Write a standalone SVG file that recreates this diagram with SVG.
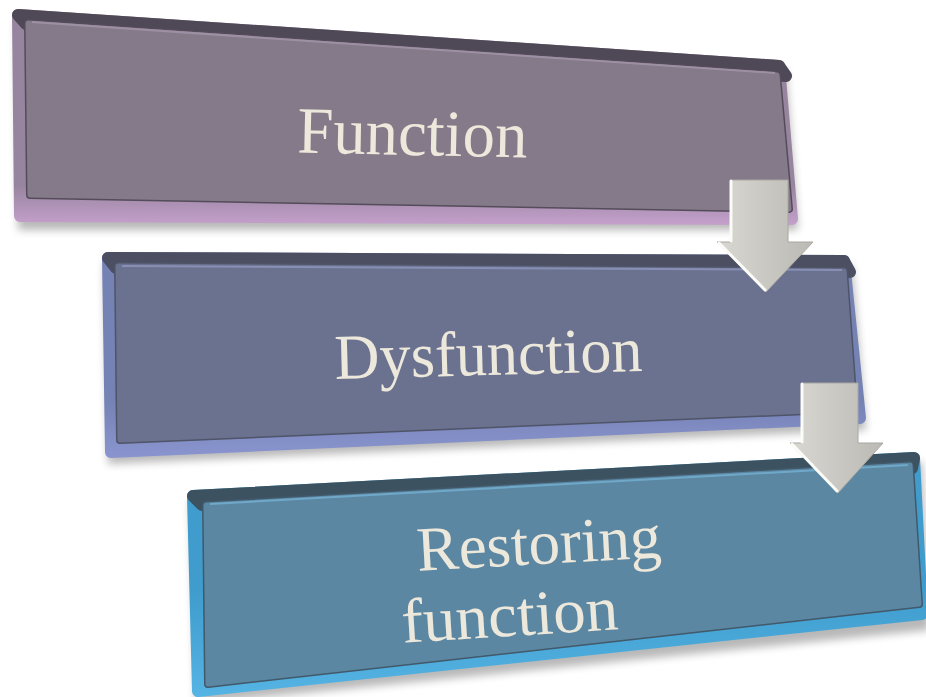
<svg xmlns="http://www.w3.org/2000/svg" width="926" height="697" viewBox="0 0 926 697">
<defs>
<filter id="blur" x="-10%" y="-20%" width="120%" height="140%"><feGaussianBlur stdDeviation="4"/></filter>
<linearGradient id="rim1" gradientUnits="userSpaceOnUse" x1="0" y1="185" x2="0" y2="228"><stop offset="0" stop-color="#97849f"/><stop offset="1" stop-color="#c8a2cf"/></linearGradient>
<linearGradient id="rim2" gradientUnits="userSpaceOnUse" x1="0" y1="400" x2="0" y2="458"><stop offset="0" stop-color="#7582b4"/><stop offset="1" stop-color="#8a95d0"/></linearGradient>
<linearGradient id="rim3" gradientUnits="userSpaceOnUse" x1="0" y1="590" x2="0" y2="697"><stop offset="0" stop-color="#3f9ccc"/><stop offset="1" stop-color="#55b4e4"/></linearGradient>
<linearGradient id="arr" x1="0" y1="0" x2="1" y2="0"><stop offset="0" stop-color="#d9d8d2"/><stop offset="0.5" stop-color="#c9c8c2"/><stop offset="1" stop-color="#bbbab4"/></linearGradient>
</defs>
<style>
.sh{fill:#000;opacity:0.28;filter:url(#blur)}
.rnd{stroke-linejoin:round}
.lbl{font-family:"Liberation Serif","DejaVu Serif",serif;fill:#ede8dc;text-anchor:middle}
.arrow{fill:url(#arr);stroke:#a8a7a1;stroke-width:1;stroke-linejoin:round}
.hl{fill:none;stroke:#fbfbf8;stroke-width:3;stroke-linecap:round}
</style>

<g id="node-function">
<polygon class="sh" points="16,20 786,70 798,230 18,230"/>
<polygon class="rnd" points="18,15 779,66 792,219 20,216" fill="url(#rim1)" stroke="url(#rim1)" stroke-width="12"/>
<polygon class="rnd" points="18,15 779,66 786,76 26,24" fill="#4f4856" stroke="#4f4856" stroke-width="12"/>
<polygon class="rnd" points="28,23 777,75 789,209 30,195" fill="#544c5a" stroke="#544c5a" stroke-width="8"/>
<polygon class="rnd" points="28,23 777,75 789,209 30,195" fill="#857a89" stroke="#857a89" stroke-width="5"/>
<line x1="32" y1="22" x2="775" y2="73" stroke="#9d90a4" stroke-width="2"/>
<text class="lbl" x="412" y="155" font-size="66" textLength="230" lengthAdjust="spacingAndGlyphs" transform="rotate(1.2 412 155)">Function</text>
</g>

<g id="node-dysfunction">
<polygon class="sh" points="104,262 852,265 866,430 108,464"/>
<polygon class="rnd" points="108,258 844,261 860,418 111,452" fill="url(#rim2)" stroke="url(#rim2)" stroke-width="12"/>
<polygon class="rnd" points="108,258 844,261 850,272 116,268" fill="#4c4f62" stroke="#4c4f62" stroke-width="12"/>
<polygon class="rnd" points="118,266 844,271 854,409 120,440" fill="#4f5468" stroke="#4f5468" stroke-width="8"/>
<polygon class="rnd" points="118,266 844,271 854,409 120,440" fill="#6b728f" stroke="#6b728f" stroke-width="5"/>
<line x1="122" y1="266" x2="842" y2="270" stroke="#8790b4" stroke-width="2"/>
<text class="lbl" x="489" y="375" font-size="64" textLength="308" lengthAdjust="spacingAndGlyphs" transform="rotate(-1.5 489 375)">Dysfunction</text>
</g>

<g id="node-restoring">
<polygon class="sh" points="190,500 922,462 930,630 196,704"/>
<polygon class="rnd" points="193,496 914,458 922,614 198,691" fill="url(#rim3)" stroke="url(#rim3)" stroke-width="12"/>
<polygon class="rnd" points="193,496 914,458 912,468 202,505" fill="#3c5260" stroke="#3c5260" stroke-width="12"/>
<polygon class="rnd" points="206,505 910,465 919,604 208,684" fill="#41596a" stroke="#41596a" stroke-width="8"/>
<polygon class="rnd" points="206,505 910,465 919,604 208,684" fill="#5c87a2" stroke="#5c87a2" stroke-width="5"/>
<line x1="210" y1="504" x2="908" y2="465" stroke="#6fa8c8" stroke-width="2"/>
<text class="lbl" font-size="63" textLength="245" lengthAdjust="spacingAndGlyphs" x="540" y="564" transform="rotate(-3.2 540 564)">Restoring</text>
<text class="lbl" font-size="63" textLength="217" lengthAdjust="spacingAndGlyphs" x="511" y="636" transform="rotate(-3.6 511 636)">function</text>
</g>

<g id="connectors">
<g id="arrow-1">
<path class="arrow" d="M731,180 L788,180 L788,242 L813,242 L766,292 L717,242 L731,242 Z"/>
<path class="hl" d="M731,241 L731,181 M719,243 L765,290"/>
</g>
<g id="arrow-2">
<path class="arrow" d="M802,383 L858,383 L858,443 L883,443 L838,493 L790,443 L802,443 Z"/>
<path class="hl" d="M802,442 L802,384 M792,444 L837,491"/>
</g>
</g>
</svg>
